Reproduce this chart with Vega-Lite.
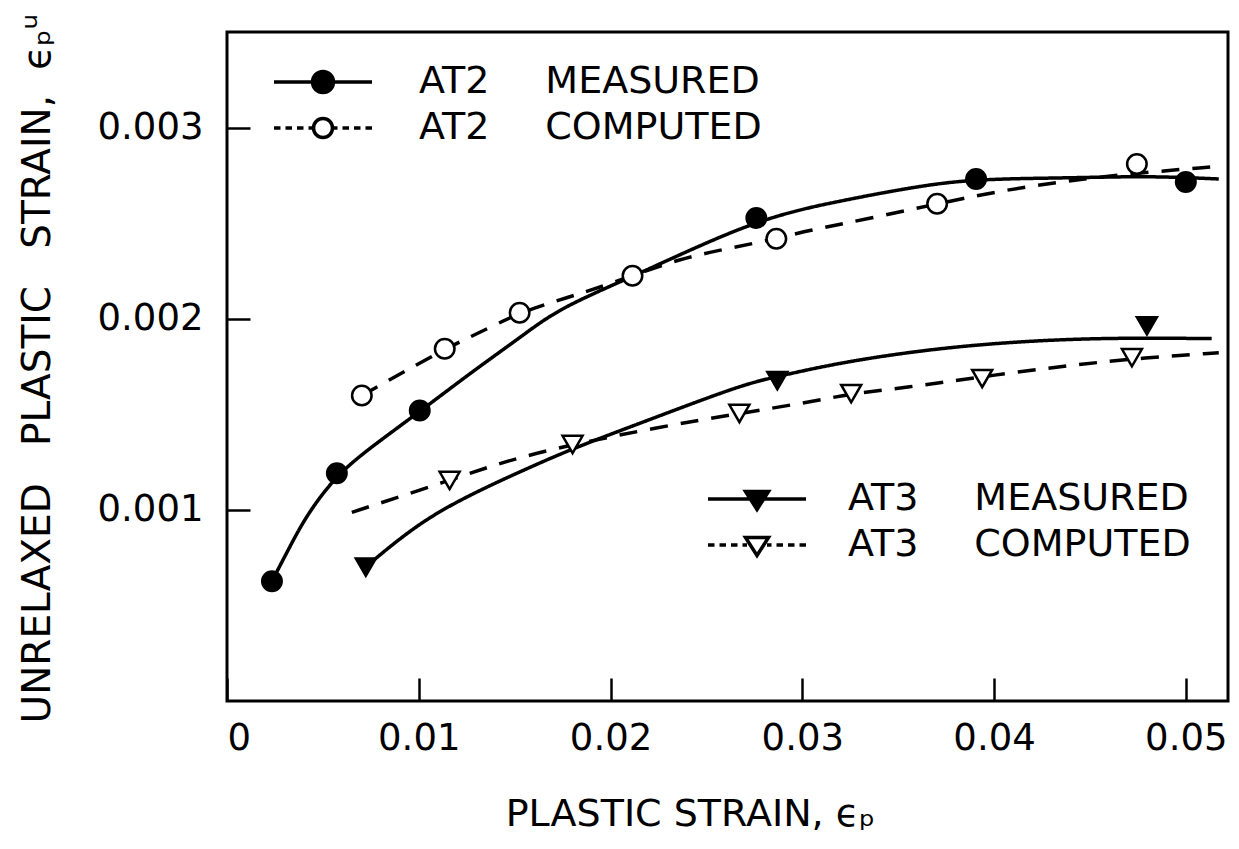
{
  "$schema": "https://vega.github.io/schema/vega-lite/v6.json",
  "width": 1001,
  "height": 669,
  "autosize": {"type": "none"},
  "padding": {"left": 227, "top": 32, "right": 11, "bottom": 148},
  "background": "white",
  "config": {
    "view": {"stroke": "black", "strokeWidth": 3},
    "axis": {
      "domain": false, "grid": false, "ticks": true,
      "tickColor": "black", "tickWidth": 2.5, "tickSize": -23,
      "labelFont": "DejaVu Sans", "labelFontSize": 37, "labelColor": "black", "labelPadding": 47,
      "titleFont": "DejaVu Sans", "titleFontSize": 38, "titleFontWeight": "normal", "titleColor": "black"
    },
    "legend": {
      "labelFont": "DejaVu Sans", "labelFontSize": 38, "labelColor": "black", "labelLimit": 700,
      "symbolSize": 2500, "symbolStrokeWidth": 3.5, "symbolStrokeColor": "black", "symbolOpacity": 1,
      "rowPadding": 0, "padding": 0, "title": null
    }
  },
  "datasets": {
    "curves": [
      {"series": "AT2 MEASURED", "x": 0.002344, "y": 0.000627},
      {"series": "AT2 MEASURED", "x": 0.003281, "y": 0.000808},
      {"series": "AT2 MEASURED", "x": 0.004167, "y": 0.000975},
      {"series": "AT2 MEASURED", "x": 0.005729, "y": 0.001185},
      {"series": "AT2 MEASURED", "x": 0.007604, "y": 0.001335},
      {"series": "AT2 MEASURED", "x": 0.010052, "y": 0.001514},
      {"series": "AT2 MEASURED", "x": 0.012813, "y": 0.001725},
      {"series": "AT2 MEASURED", "x": 0.015417, "y": 0.001911},
      {"series": "AT2 MEASURED", "x": 0.017344, "y": 0.002057},
      {"series": "AT2 MEASURED", "x": 0.02151, "y": 0.002235},
      {"series": "AT2 MEASURED", "x": 0.027604, "y": 0.002522},
      {"series": "AT2 MEASURED", "x": 0.031927, "y": 0.002616},
      {"series": "AT2 MEASURED", "x": 0.036094, "y": 0.002695},
      {"series": "AT2 MEASURED", "x": 0.039063, "y": 0.002731},
      {"series": "AT2 MEASURED", "x": 0.04375, "y": 0.002736},
      {"series": "AT2 MEASURED", "x": 0.048073, "y": 0.002747},
      {"series": "AT2 MEASURED", "x": 0.051719, "y": 0.002731},
      {"series": "AT2 COMPUTED", "x": 0.007031, "y": 0.001598},
      {"series": "AT2 COMPUTED", "x": 0.011354, "y": 0.001843},
      {"series": "AT2 COMPUTED", "x": 0.013698, "y": 0.001953},
      {"series": "AT2 COMPUTED", "x": 0.01526, "y": 0.002031},
      {"series": "AT2 COMPUTED", "x": 0.017188, "y": 0.002094},
      {"series": "AT2 COMPUTED", "x": 0.018906, "y": 0.002146},
      {"series": "AT2 COMPUTED", "x": 0.021146, "y": 0.002225},
      {"series": "AT2 COMPUTED", "x": 0.023594, "y": 0.002313},
      {"series": "AT2 COMPUTED", "x": 0.026042, "y": 0.002366},
      {"series": "AT2 COMPUTED", "x": 0.028646, "y": 0.002418},
      {"series": "AT2 COMPUTED", "x": 0.030208, "y": 0.00246},
      {"series": "AT2 COMPUTED", "x": 0.033646, "y": 0.002527},
      {"series": "AT2 COMPUTED", "x": 0.037031, "y": 0.002601},
      {"series": "AT2 COMPUTED", "x": 0.04026, "y": 0.002668},
      {"series": "AT2 COMPUTED", "x": 0.04375, "y": 0.002721},
      {"series": "AT2 COMPUTED", "x": 0.047448, "y": 0.002762},
      {"series": "AT2 COMPUTED", "x": 0.051354, "y": 0.002794},
      {"series": "AT3 MEASURED", "x": 0.00724, "y": 0.0007},
      {"series": "AT3 MEASURED", "x": 0.00781, "y": 0.000752},
      {"series": "AT3 MEASURED", "x": 0.01021, "y": 0.000945},
      {"series": "AT3 MEASURED", "x": 0.01281, "y": 0.001086},
      {"series": "AT3 MEASURED", "x": 0.01542, "y": 0.001206},
      {"series": "AT3 MEASURED", "x": 0.01802, "y": 0.001321},
      {"series": "AT3 MEASURED", "x": 0.02151, "y": 0.001452},
      {"series": "AT3 MEASURED", "x": 0.02672, "y": 0.00165},
      {"series": "AT3 MEASURED", "x": 0.02844, "y": 0.001692},
      {"series": "AT3 MEASURED", "x": 0.03193, "y": 0.00177},
      {"series": "AT3 MEASURED", "x": 0.03609, "y": 0.001833},
      {"series": "AT3 MEASURED", "x": 0.04026, "y": 0.001875},
      {"series": "AT3 MEASURED", "x": 0.04547, "y": 0.001901},
      {"series": "AT3 MEASURED", "x": 0.05135, "y": 0.001896},
      {"series": "AT3 COMPUTED", "x": 0.00651, "y": 0.000987},
      {"series": "AT3 COMPUTED", "x": 0.01161, "y": 0.001154},
      {"series": "AT3 COMPUTED", "x": 0.01458, "y": 0.001258},
      {"series": "AT3 COMPUTED", "x": 0.01802, "y": 0.001342},
      {"series": "AT3 COMPUTED", "x": 0.0224, "y": 0.001431},
      {"series": "AT3 COMPUTED", "x": 0.02672, "y": 0.001504},
      {"series": "AT3 COMPUTED", "x": 0.03021, "y": 0.001561},
      {"series": "AT3 COMPUTED", "x": 0.03255, "y": 0.001608},
      {"series": "AT3 COMPUTED", "x": 0.03542, "y": 0.00164},
      {"series": "AT3 COMPUTED", "x": 0.03938, "y": 0.001697},
      {"series": "AT3 COMPUTED", "x": 0.04339, "y": 0.001749},
      {"series": "AT3 COMPUTED", "x": 0.04719, "y": 0.001791},
      {"series": "AT3 COMPUTED", "x": 0.05172, "y": 0.001822}
    ],
    "points": [
      {"group": "AT2", "series": "AT2 MEASURED", "x": 0.002344, "y": 0.000627},
      {"group": "AT2", "series": "AT2 MEASURED", "x": 0.005729, "y": 0.001191},
      {"group": "AT2", "series": "AT2 MEASURED", "x": 0.010052, "y": 0.00152},
      {"group": "AT2", "series": "AT2 MEASURED", "x": 0.027604, "y": 0.002527},
      {"group": "AT2", "series": "AT2 MEASURED", "x": 0.039063, "y": 0.002731},
      {"group": "AT2", "series": "AT2 MEASURED", "x": 0.05, "y": 0.002715},
      {"group": "AT2", "series": "AT2 COMPUTED", "x": 0.007031, "y": 0.001598},
      {"group": "AT2", "series": "AT2 COMPUTED", "x": 0.011354, "y": 0.001843},
      {"group": "AT2", "series": "AT2 COMPUTED", "x": 0.01526, "y": 0.002031},
      {"group": "AT2", "series": "AT2 COMPUTED", "x": 0.021146, "y": 0.002225},
      {"group": "AT2", "series": "AT2 COMPUTED", "x": 0.028646, "y": 0.002418},
      {"group": "AT2", "series": "AT2 COMPUTED", "x": 0.037031, "y": 0.002601},
      {"group": "AT2", "series": "AT2 COMPUTED", "x": 0.047448, "y": 0.002809},
      {"group": "AT3", "series": "AT3 MEASURED", "x": 0.00724, "y": 0.0007},
      {"group": "AT3", "series": "AT3 MEASURED", "x": 0.0287, "y": 0.001676},
      {"group": "AT3", "series": "AT3 MEASURED", "x": 0.04797, "y": 0.001963},
      {"group": "AT3", "series": "AT3 COMPUTED", "x": 0.01161, "y": 0.001154},
      {"group": "AT3", "series": "AT3 COMPUTED", "x": 0.01802, "y": 0.001342},
      {"group": "AT3", "series": "AT3 COMPUTED", "x": 0.02672, "y": 0.001504},
      {"group": "AT3", "series": "AT3 COMPUTED", "x": 0.03255, "y": 0.001608},
      {"group": "AT3", "series": "AT3 COMPUTED", "x": 0.03938, "y": 0.001687},
      {"group": "AT3", "series": "AT3 COMPUTED", "x": 0.04719, "y": 0.001796}
    ]
  },
  "encoding": {
    "x": {
      "field": "x", "type": "quantitative",
      "scale": {"domain": [0, 0.0522], "nice": false, "zero": false},
      "axis": {"values": [0, 0.01, 0.02, 0.03, 0.04, 0.05], "format": "~g", "labelPadding": 42, "title": "PLASTIC STRAIN, ϵₚ", "titlePadding": 39, "titleX": 463}
    },
    "y": {
      "field": "y", "type": "quantitative",
      "scale": {"domain": [0, 0.0035], "nice": false, "zero": false},
      "axis": {"values": [0.001, 0.002, 0.003], "format": "~g", "title": "UNRELAXED\u00a0\u00a0 PLASTIC\u00a0\u00a0 STRAIN,\u00a0 ϵₚᵘ", "titleFontSize": 39, "titlePadding": 40, "titleY": 336}
    }
  },
  "layer": [
    {
      "data": {"name": "curves"},
      "mark": {"type": "line", "interpolate": "basis", "color": "black", "strokeWidth": 3.5},
      "encoding": {
        "strokeDash": {
          "field": "series", "type": "nominal",
          "scale": {"domain": ["AT2 MEASURED", "AT2 COMPUTED", "AT3 MEASURED", "AT3 COMPUTED"], "range": [[1, 0], [18, 13], [1, 0], [18, 13]]},
          "legend": null
        }
      }
    },
    {
      "data": {"name": "points"},
      "transform": [{"filter": "datum.group === 'AT2'"}],
      "mark": {"type": "point", "stroke": "black", "strokeWidth": 2.5, "opacity": 1, "size": 380},
      "encoding": {
        "shape": {
          "field": "series", "type": "nominal",
          "scale": {"domain": ["AT2 MEASURED", "AT2 COMPUTED"], "range": ["circle", "circle"]},
          "legend": null
        },
        "fill": {
          "field": "series", "type": "nominal",
          "scale": {"domain": ["AT2 MEASURED", "AT2 COMPUTED"], "range": ["black", "white"]},
          "legend": null
        }
      }
    },
    {
      "data": {"name": "points"},
      "transform": [{"filter": "datum.group === 'AT3'"}],
      "mark": {"type": "point", "stroke": "black", "strokeWidth": 2.5, "opacity": 1, "size": 400},
      "encoding": {
        "shape": {
          "field": "series", "type": "nominal",
          "scale": {"domain": ["AT3 MEASURED", "AT3 COMPUTED"], "range": ["triangle-down", "triangle-down"]},
          "legend": null
        },
        "fill": {
          "field": "series", "type": "nominal",
          "scale": {"domain": ["AT3 MEASURED", "AT3 COMPUTED"], "range": ["black", "white"]},
          "legend": null
        }
      }
    },
    {
      "data": {"name": "points"},
      "transform": [{"filter": "datum.group === 'none'"}],
      "mark": {"type": "point", "strokeWidth": 3.5, "opacity": 1},
      "encoding": {
        "shape": {
          "field": "series", "type": "nominal",
          "scale": {
            "domain": ["AT2 MEASURED", "AT2 COMPUTED"],
            "range": [
              "M-1.96,0H-0.42M0.42,0H1.96M0.42,0A0.42,0.42,0,1,1,-0.42,0A0.42,0.42,0,1,1,0.42,0Z",
              "M-1.96,0H-1.7M-1.5,0H-1.24M-1.04,0H-0.78M-0.58,0H-0.38M0.38,0H0.58M0.78,0H1.04M1.24,0H1.5M1.7,0H1.96M0.38,0A0.38,0.38,0,1,1,-0.38,0A0.38,0.38,0,1,1,0.38,0Z"
            ]
          },
          "legend": {
            "orient": "none", "legendX": 69, "legendY": 23, "labelOffset": 69, "rowPadding": -10,
            "labelExpr": "replace(datum.label, ' ', '\u00a0\u00a0\u00a0\u00a0\u2009')"
          }
        },
        "fill": {
          "field": "series", "type": "nominal",
          "scale": {"domain": ["AT2 MEASURED", "AT2 COMPUTED"], "range": ["black", "white"]},
          "legend": null
        },
        "stroke": {
          "field": "series", "type": "nominal",
          "scale": {"domain": ["AT2 MEASURED", "AT2 COMPUTED"], "range": ["black", "black"]},
          "legend": null
        }
      }
    },
    {
      "data": {"name": "points"},
      "transform": [{"filter": "datum.group === 'none'"}],
      "mark": {"type": "point", "strokeWidth": 3.5, "opacity": 1},
      "encoding": {
        "shape": {
          "field": "series", "type": "nominal",
          "scale": {
            "domain": ["AT3 MEASURED", "AT3 COMPUTED"],
            "range": [
              "M-1.96,0H1.96M-0.46,-0.3L0.46,-0.3L0,0.42Z",
              "M-1.96,0H-1.7M-1.5,0H-1.24M-1.04,0H-0.78M-0.58,0H-0.4M0.4,0H0.58M0.78,0H1.04M1.24,0H1.5M1.7,0H1.96M-0.46,-0.3L0.46,-0.3L0,0.42Z"
            ]
          },
          "legend": {
            "orient": "none", "legendX": 503, "legendY": 440, "labelOffset": 64, "rowPadding": -10,
            "labelExpr": "replace(datum.label, ' ', '\u00a0\u00a0\u00a0\u00a0\u2009')"
          }
        },
        "fill": {
          "field": "series", "type": "nominal",
          "scale": {"domain": ["AT3 MEASURED", "AT3 COMPUTED"], "range": ["black", "white"]},
          "legend": null
        },
        "stroke": {
          "field": "series", "type": "nominal",
          "scale": {"domain": ["AT3 MEASURED", "AT3 COMPUTED"], "range": ["black", "black"]},
          "legend": null
        }
      }
    }
  ],
  "resolve": {
    "scale": {"shape": "independent", "fill": "independent", "stroke": "independent"},
    "legend": {"shape": "independent", "fill": "independent", "stroke": "independent"}
  }
}
